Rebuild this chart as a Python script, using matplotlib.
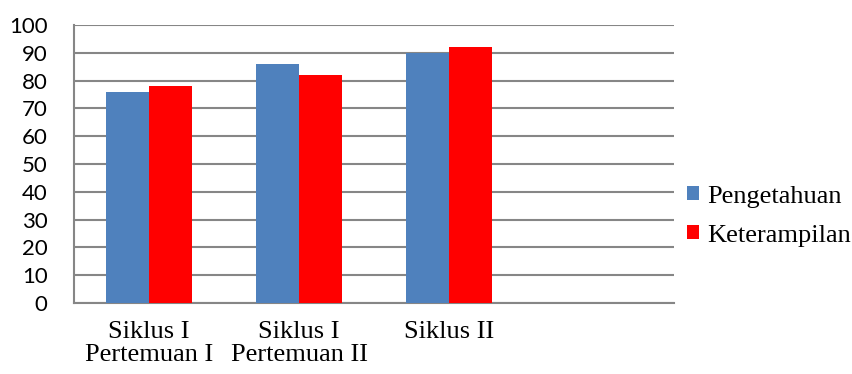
import matplotlib.pyplot as plt
import numpy as np

categories = ["Siklus I\nPertemuan I", "Siklus I\nPertemuan II", "Siklus II", ""]
pengetahuan = [76, 86, 90]
keterampilan = [78, 82, 92]
yticks = list(range(0, 101, 10))

fig = plt.figure(figsize=(8.53, 3.74), dpi=100)
ax = fig.add_axes([0.0868, 0.19, 0.7034, 0.743])

x = np.arange(len(pengetahuan))
w = 0.287
ax.bar(x - w / 2, pengetahuan, width=w, color="#4F81BD", label="Pengetahuan", zorder=3)
ax.bar(x + w / 2, keterampilan, width=w, color="#FF0000", label="Keterampilan", zorder=3)

ax.set_xlim(-0.5, len(categories) - 0.5)
ax.set_ylim(0, 100)
ax.set_yticks(yticks)
ax.set_yticklabels([str(v) for v in yticks], fontfamily="Lato", fontsize=16)
ax.set_xticks(np.arange(len(categories)))
ax.set_xticklabels(categories, fontfamily="Liberation Serif", fontsize=19, linespacing=1.08)
ax.tick_params(axis="x", length=0, pad=13)
ax.tick_params(axis="y", length=0, pad=19)

ax.grid(axis="y", color="#868686", linewidth=1.5, zorder=0)
for side in ("top", "right"):
    ax.spines[side].set_visible(False)
for side in ("left", "bottom"):
    ax.spines[side].set_color("#868686")
    ax.spines[side].set_linewidth(1.5)

leg = fig.legend(loc="center left", bbox_to_anchor=(0.778, 0.422), frameon=False,
                 prop={"family": "Liberation Serif", "size": 19},
                 handlelength=0.45, handleheight=0.45, handletextpad=0.3, labelspacing=0.65)

fig.savefig("out.png", dpi=100)
